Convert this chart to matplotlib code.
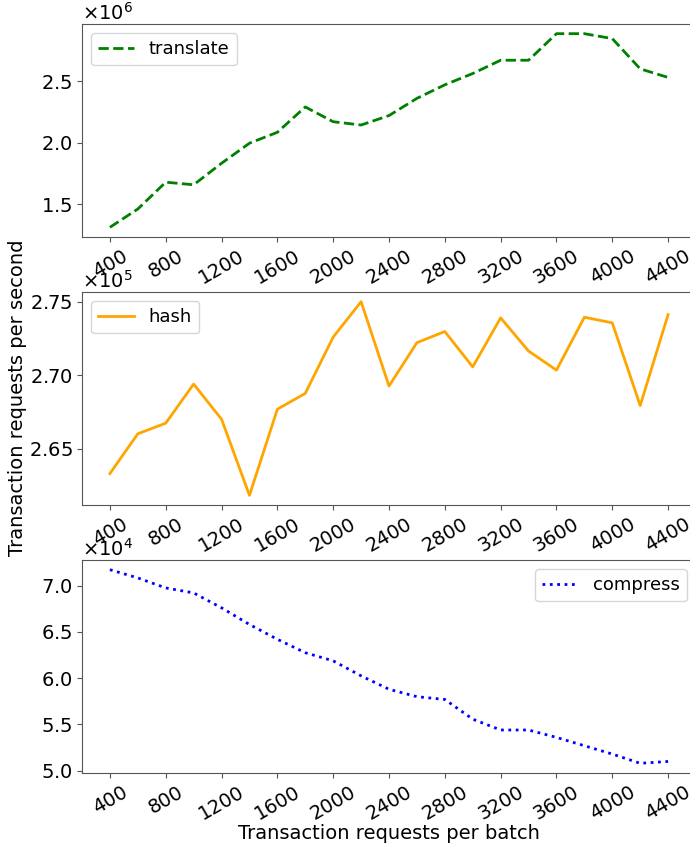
import numpy as np
import matplotlib
matplotlib.use('Agg')
import matplotlib.pyplot as plt
from matplotlib.ticker import ScalarFormatter

batch = list(range(400, 4401, 200))

translate = [1.311, 1.46, 1.678, 1.657, 1.832, 1.995, 2.084, 2.29, 2.17, 2.143, 2.22,
             2.36, 2.47, 2.562, 2.67, 2.67, 2.886, 2.886, 2.846, 2.60, 2.53]
translate = [v * 1e6 for v in translate]

hash_ = [2.633, 2.6601, 2.6673, 2.6939, 2.670, 2.6182, 2.6768, 2.6876, 2.7259, 2.750, 2.6926,
         2.7221, 2.7297, 2.7056, 2.739, 2.7164, 2.7034, 2.7394, 2.7356, 2.6793, 2.7412]
hash_ = [v * 1e5 for v in hash_]

compress = [7.172, 7.083, 6.975, 6.921, 6.76, 6.58, 6.42, 6.275, 6.187, 6.025, 5.88,
            5.80, 5.77, 5.557, 5.44, 5.44, 5.36, 5.27, 5.18, 5.08, 5.10]
compress = [v * 1e4 for v in compress]

xticks = list(range(400, 4401, 400))

plt.rcParams['font.size'] = 14
plt.rcParams['legend.fontsize'] = 13
plt.rcParams['axes.edgecolor'] = '#555555'
plt.rcParams['xtick.color'] = '#555555'
plt.rcParams['ytick.color'] = '#555555'
plt.rcParams['xtick.labelcolor'] = 'black'
plt.rcParams['ytick.labelcolor'] = 'black'

fig = plt.figure(figsize=(6.9, 8.44), dpi=100)
w = 614 / 690
h = 213 / 844
l = 82 / 690
ax1 = fig.add_axes([l, 1 - 237 / 844, w, h])
ax2 = fig.add_axes([l, 1 - 505 / 844, w, h])
ax3 = fig.add_axes([l, 1 - 773 / 844, w, h])

ax1.plot(batch, translate, '--', color='green', lw=2, label='translate')
ax1.legend(loc='upper left')
ax2.plot(batch, hash_, '-', color='orange', lw=2, label='hash')
ax2.legend(loc='upper left')
ax3.plot(batch, compress, ':', color='blue', lw=2, label='compress')
ax3.legend(loc='upper right')

ax1.set_yticks([1.5e6, 2.0e6, 2.5e6])
ax2.set_yticks([2.65e5, 2.70e5, 2.75e5])
ax3.set_yticks([5.0e4, 5.5e4, 6.0e4, 6.5e4, 7.0e4])

for ax in (ax1, ax2, ax3):
    fmt = ScalarFormatter(useMathText=True)
    fmt.set_powerlimits((0, 0))
    ax.yaxis.set_major_formatter(fmt)
    ax.set_xticks(xticks)
    ax.tick_params(axis='x', labelrotation=30)

ax3.set_xlabel('Transaction requests per batch', labelpad=0)
fig.text(0.012, 1 - 398 / 844, 'Transaction requests per second', rotation=90,
         va='center', ha='left', fontsize=14)

fig.savefig('out.png', dpi=100)
